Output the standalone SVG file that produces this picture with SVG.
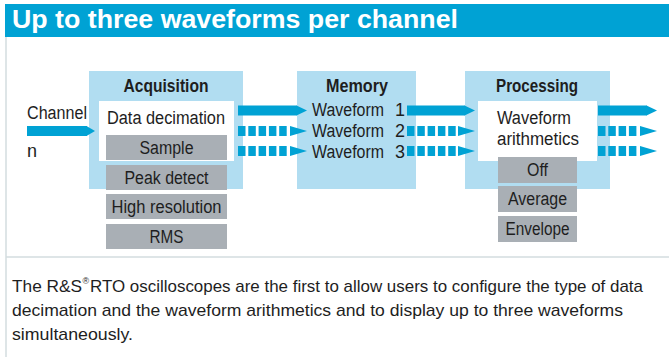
<svg xmlns="http://www.w3.org/2000/svg" width="669" height="357" viewBox="0 0 669 357">
<style>
.t{font-family:"Liberation Sans Narrow","Liberation Sans",Arial,sans-serif;font-size:18px;fill:#1e1e1e}
.cap{font-size:17px}
.b{font-weight:bold}
.c{text-anchor:middle}
.panel{fill:#b1ddf1}
.white{fill:#ffffff}
.opt{fill:#a9afb5}
.solid{stroke:#00a2d4;stroke-width:10;fill:none}
.dash{stroke:#00a2d4;stroke-width:10;fill:none;stroke-dasharray:7.5 2.8}
.head{fill:#00a2d4}
</style>
<rect x="0" y="0" width="669" height="357" fill="#ffffff"/>
<g id="header">
<rect x="5" y="4" width="664" height="33" fill="#00a2d4"/>
<text x="12" y="28" class="t b" style="font-size:25px;fill:#ffffff" textLength="446" lengthAdjust="spacingAndGlyphs">Up to three waveforms per channel</text>
</g>
<g id="frame">
<line x1="6" y1="37" x2="6" y2="357" stroke="#d3dcdf" stroke-width="1.5"/>
<line x1="6" y1="257" x2="669" y2="257" stroke="#d3dcdf" stroke-width="1.5"/>
</g>
<g id="channel">
<text x="27" y="119" class="t" textLength="60" lengthAdjust="spacingAndGlyphs">Channel</text>
<text x="27" y="157" class="t">n</text>
</g>
<g id="acquisition">
<rect class="panel" x="89" y="71" width="154" height="118"/>
<rect class="white" x="99" y="101" width="135" height="60"/>
<text x="166" y="92" class="t b c" textLength="85" lengthAdjust="spacingAndGlyphs">Acquisition</text>
<text x="166" y="124" class="t c" textLength="118" lengthAdjust="spacingAndGlyphs">Data decimation</text>
<g id="acq-sample"><rect class="opt" x="106" y="135" width="121" height="25"/><text x="166.5" y="154" class="t c" textLength="54" lengthAdjust="spacingAndGlyphs">Sample</text></g>
<g id="acq-peak"><rect class="opt" x="106" y="165" width="121" height="25"/><text x="166.5" y="184" class="t c" textLength="84" lengthAdjust="spacingAndGlyphs">Peak detect</text></g>
<g id="acq-high"><rect class="opt" x="106" y="194" width="121" height="25"/><text x="166.5" y="213" class="t c" textLength="110" lengthAdjust="spacingAndGlyphs">High resolution</text></g>
<g id="acq-rms"><rect class="opt" x="106" y="224" width="121" height="25"/><text x="166.5" y="243" class="t c" textLength="34" lengthAdjust="spacingAndGlyphs">RMS</text></g>
</g>
<g id="memory">
<rect class="panel" x="297" y="71" width="119" height="118"/>
<text x="357" y="92" class="t b c" textLength="62" lengthAdjust="spacingAndGlyphs">Memory</text>
<text x="312" y="116" class="t"><tspan textLength="72" lengthAdjust="spacingAndGlyphs">Waveform</tspan> <tspan x="395">1</tspan></text>
<text x="312" y="137" class="t"><tspan textLength="72" lengthAdjust="spacingAndGlyphs">Waveform</tspan> <tspan x="395">2</tspan></text>
<text x="312" y="158" class="t"><tspan textLength="72" lengthAdjust="spacingAndGlyphs">Waveform</tspan> <tspan x="395">3</tspan></text>
</g>
<g id="processing">
<rect class="panel" x="465" y="71" width="145" height="118"/>
<rect class="white" x="478" y="101" width="119" height="60"/>
<text x="537" y="92" class="t b c" textLength="82" lengthAdjust="spacingAndGlyphs">Processing</text>
<text x="534" y="124" class="t c" textLength="74" lengthAdjust="spacingAndGlyphs">Waveform</text>
<text x="538" y="145" class="t c" textLength="82" lengthAdjust="spacingAndGlyphs">arithmetics</text>
<g id="proc-off"><rect class="opt" x="498" y="157" width="79" height="26"/><text x="537.5" y="176" class="t c" textLength="21" lengthAdjust="spacingAndGlyphs">Off</text></g>
<g id="proc-average"><rect class="opt" x="498" y="186" width="79" height="26"/><text x="537.5" y="205" class="t c" textLength="59" lengthAdjust="spacingAndGlyphs">Average</text></g>
<g id="proc-envelope"><rect class="opt" x="498" y="216" width="79" height="26"/><text x="537.5" y="235" class="t c" textLength="64" lengthAdjust="spacingAndGlyphs">Envelope</text></g>
</g>
<g id="connectors">
<line class="solid" x1="27" y1="131" x2="87" y2="131"/>
<polygon class="head" points="86.5,126 95,131 86.5,136"/>
<line class="solid" x1="238" y1="110.5" x2="297" y2="110.5"/>
<polygon class="head" points="296.5,105.5 307,110.5 296.5,115.5"/>
<line class="dash" x1="238" y1="131" x2="288" y2="131"/>
<polygon class="head" points="290,126 307,131 290,136"/>
<line class="dash" x1="238" y1="151" x2="288" y2="151"/>
<polygon class="head" points="290,146 307,151 290,156"/>
<line class="solid" x1="407" y1="110.5" x2="465" y2="110.5"/>
<polygon class="head" points="464.5,105.5 475,110.5 464.5,115.5"/>
<line class="dash" x1="407" y1="131" x2="457" y2="131"/>
<polygon class="head" points="458,126 475,131 458,136"/>
<line class="dash" x1="407" y1="151" x2="457" y2="151"/>
<polygon class="head" points="458,146 475,151 458,156"/>
<line class="solid" x1="598" y1="110.5" x2="647" y2="110.5"/>
<polygon class="head" points="646.5,105.5 657,110.5 646.5,115.5"/>
<line class="dash" x1="598" y1="131" x2="637" y2="131"/>
<polygon class="head" points="640,126 657,131 640,136"/>
<line class="dash" x1="598" y1="151" x2="637" y2="151"/>
<polygon class="head" points="640,146 657,151 640,156"/>
</g>
<g id="caption">
<text x="12" y="292" class="t cap" textLength="70" lengthAdjust="spacingAndGlyphs">The R&amp;S</text>
<text x="82.5" y="284" class="t" style="font-size:9px">®</text>
<text x="90" y="292" class="t cap" textLength="553" lengthAdjust="spacingAndGlyphs">RTO oscilloscopes are the first to allow users to configure the type of data</text>
<text x="12" y="316" class="t cap" textLength="611" lengthAdjust="spacingAndGlyphs">decimation and the waveform arithmetics and to display up to three waveforms</text>
<text x="12" y="340" class="t cap" textLength="121" lengthAdjust="spacingAndGlyphs">simultaneously.</text>
</g>
</svg>
